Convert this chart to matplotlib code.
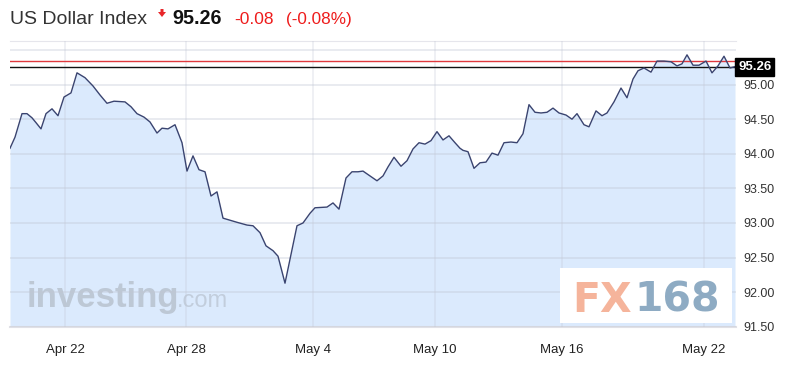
import matplotlib
matplotlib.use("Agg")
import matplotlib.pyplot as plt
from matplotlib.patches import Rectangle, Polygon
import matplotlib.transforms as mtransforms

# ---- data ----
# t: position along the (trading-time) axis, value: index level
t = [0, 5, 12, 17, 22, 26, 31, 36, 42, 48, 54, 61, 67, 75, 83, 90, 97, 104,
     115, 121, 127, 134, 140, 147, 152, 158, 165, 172, 177, 183, 189, 195, 201,
     207, 213, 227, 237, 243, 250, 256, 263, 268, 275, 287, 293, 300, 305, 317,
     323, 329, 336, 342, 348, 353, 360, 367, 373, 378, 384, 391, 397, 403, 409,
     415, 421, 427, 433, 439, 445, 450, 453, 458, 464, 470, 476, 482, 488, 494,
     501, 507, 513, 519, 525, 531, 537, 543, 549, 556, 562, 567, 574, 579, 586,
     592, 597, 604, 611, 617, 623, 628, 634, 641, 647, 654, 661, 667, 672, 677,
     683, 689, 696, 702, 708, 714, 720, 725]
value = [94.08, 94.24, 94.58, 94.58, 94.52, 94.45, 94.36, 94.58, 94.65, 94.55,
         94.82, 94.88, 95.17, 95.10, 94.98, 94.85, 94.73, 94.76, 94.75, 94.68,
         94.58, 94.53, 94.46, 94.30, 94.37, 94.36, 94.42, 94.16, 93.75, 93.97,
         93.77, 93.74, 93.39, 93.45, 93.07, 93.01, 92.97, 92.96, 92.86, 92.67,
         92.60, 92.52, 92.13, 92.96, 93.00, 93.14, 93.22, 93.23, 93.29, 93.20,
         93.65, 93.74, 93.74, 93.75, 93.68, 93.61, 93.68, 93.81, 93.95, 93.82,
         93.90, 94.07, 94.16, 94.14, 94.19, 94.32, 94.20, 94.26, 94.16, 94.08,
         94.05, 94.03, 93.79, 93.87, 93.88, 94.01, 93.98, 94.16, 94.17, 94.16,
         94.29, 94.71, 94.60, 94.59, 94.60, 94.66, 94.59, 94.56, 94.50, 94.58,
         94.42, 94.39, 94.62, 94.55, 94.59, 94.75, 94.95, 94.81, 95.08, 95.20,
         95.24, 95.18, 95.34, 95.34, 95.33, 95.27, 95.30, 95.43, 95.28, 95.28,
         95.34, 95.17, 95.27, 95.41, 95.24, 95.26]
tick_pos = [55, 176, 303, 425, 552, 694]
tick_labels = ["Apr 22", "Apr 28", "May 4", "May 10", "May 16", "May 22"]
y_ticks = [91.5, 92.0, 92.5, 93.0, 93.5, 94.0, 94.5, 95.0, 95.5]
y_labels = ["91.50", "92.00", "92.50", "93.00", "93.50", "94.00", "94.50", "95.00", ""]
last_price = 95.26
prev_close = 95.34
title = "US Dollar Index"
change = "-0.08"
change_pct = "(-0.08%)"

plt.rcParams['font.family'] = ['Liberation Sans', 'DejaVu Sans']

fig = plt.figure(figsize=(8.0, 3.92), dpi=100)
W, H = 800, 392
ax = fig.add_axes([10 / W, 1 - 327 / H, 726 / W, 286 / H])

ymin, ymax = 91.497, 95.63
ax.set_xlim(0, 726)
ax.set_ylim(ymin, ymax)

ax.fill_between(t, value, ymin, color="#dbeafd", zorder=1, linewidth=0)
ax.plot(t, value, color="#3a4470", linewidth=1.0, zorder=4)

ax.axhline(prev_close, color="#e0393e", linewidth=1.0, zorder=3)
ax.axhline(last_price, color="#111111", linewidth=1.0, zorder=3)

ax.set_axisbelow(False)
ax.grid(True, axis="y", color="#c0c6d4", alpha=0.38, linewidth=1.3, zorder=2)
ax.grid(True, axis="x", color="#c0c6d4", alpha=0.28, linewidth=1.3, zorder=2)
ax.set_xticks(tick_pos)
ax.set_xticklabels(tick_labels)
ax.set_yticks(y_ticks)
ax.set_yticklabels(y_labels)
ax.yaxis.tick_right()
ax.tick_params(axis="y", length=0, pad=5, labelsize=9, labelcolor="#333333")
ax.tick_params(axis="x", length=0, pad=12, labelsize=9.5, labelcolor="#222222")
for lab in ax.get_yticklabels():
    lab.set_horizontalalignment("left")

for s in ["left", "right"]:
    ax.spines[s].set_visible(False)
ax.spines["top"].set_color("#e6e6ec")
ax.spines["bottom"].set_color("#e0e0e6")
ax.spines["bottom"].set_linewidth(1.5)

# last price tag
trans = mtransforms.blended_transform_factory(ax.transAxes, ax.transData)
ax.text(1.003, last_price, "95.26", transform=trans, ha="left", va="center",
        color="white", fontsize=9.5, fontweight="bold", zorder=6,
        bbox=dict(boxstyle="square,pad=0.22", fc="black", ec="black"), clip_on=False)

# watermarks
ax.text(17 / 726, 0.07, "investing", transform=ax.transAxes, fontsize=25,
        fontweight="bold", color="#b8c2cf", alpha=0.85, ha="left", va="baseline", zorder=2)
ax.text(167 / 726, 0.07, ".com", transform=ax.transAxes, fontsize=17,
        color="#b8c2cf", alpha=0.7, ha="left", va="baseline", zorder=2)

# FX168 box
fig.add_artist(Rectangle((560 / W, 1 - 323 / H), 172 / W, 55 / H,
                         transform=fig.transFigure, facecolor="white",
                         edgecolor="none", zorder=5))
fig.text(572 / W, 1 - 312 / H, "FX", fontsize=29.5, fontweight="bold",
         family="DejaVu Sans", color="#f5b49b", ha="left", va="baseline", zorder=6)
fig.text(634 / W, 1 - 312 / H, "168", fontsize=29.5, fontweight="bold",
         family="DejaVu Sans", color="#8eabc3", ha="left", va="baseline", zorder=6)

# header
fig.text(10 / W, 1 - 24 / H, title, fontsize=14, color="#333333",
         ha="left", va="baseline")
arrow = Polygon([(160.5, 9), (163.5, 9), (163.5, 12), (166, 12), (162, 17),
                 (158, 12), (160.5, 12)], closed=True, facecolor="#e8262a",
                edgecolor="none")
arrow.set_transform(mtransforms.Affine2D().scale(1 / W, -1 / H).translate(0, 1) + fig.transFigure)
fig.add_artist(arrow)
fig.text(172 / W, 1 - 24 / H, "95.26", fontsize=14.2, fontweight="bold",
         color="#111111", ha="left", va="baseline")
fig.text(234 / W, 1 - 24 / H, change, fontsize=12.5, color="#ee1c1c",
         ha="left", va="baseline")
fig.text(286 / W, 1 - 24 / H, change_pct, fontsize=12.3, color="#ee1c1c",
         ha="left", va="baseline")

fig.savefig("out.png", dpi=100, facecolor="white")
